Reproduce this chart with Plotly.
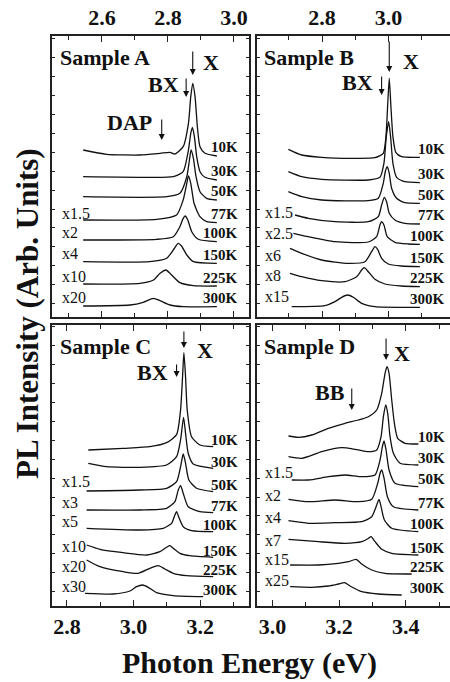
import plotly.graph_objects as go

TEMPS = ["10K", "30K", "50K", "77K", "100K", "150K", "225K", "300K"]

# ---------------- Sample A (upper energy scale, eV) ----------------
A_MULT = ["", "", "", "x1.5", "x2", "x4", "x10", "x20"]
A_E = [
    [2.543, 2.614, 2.715, 2.776, 2.806, 2.821, 2.846, 2.862, 2.869, 2.875, 2.882, 2.889, 2.897, 2.912, 2.948],
    [2.543, 2.715, 2.816, 2.846, 2.862, 2.869, 2.874, 2.880, 2.887, 2.897, 2.912, 2.948],
    [2.543, 2.796, 2.836, 2.857, 2.865, 2.870, 2.877, 2.885, 2.897, 2.917, 2.948],
    [2.543, 2.766, 2.826, 2.846, 2.857, 2.862, 2.869, 2.879, 2.897, 2.917, 2.948],
    [2.543, 2.766, 2.816, 2.836, 2.846, 2.852, 2.860, 2.872, 2.892, 2.948],
    [2.543, 2.745, 2.796, 2.816, 2.831, 2.841, 2.857, 2.877, 2.948],
    [2.543, 2.715, 2.756, 2.776, 2.794, 2.811, 2.836, 2.877, 2.948],
    [2.543, 2.685, 2.725, 2.756, 2.776, 2.806, 2.846, 2.948],
]
A_I = [
    [169, 164.7, 164, 165.7, 166.7, 165, 172.3, 195.7, 222.3, 235.7, 222.3, 192.3, 172.3, 165.7, 163],
    [142.3, 141.7, 142.3, 147.3, 169, 185.7, 191.7, 182.3, 162.3, 147.3, 141.7, 139],
    [122.3, 122.3, 125.7, 142.3, 159, 169, 160.7, 142.3, 127.3, 120.7, 119],
    [99, 99.7, 104, 119, 135.7, 143, 135.7, 115.7, 102.3, 97.3, 96.3],
    [79, 79.7, 82.3, 92.3, 100.7, 103, 99, 87.3, 79.7, 77.3],
    [57.3, 57.3, 60.7, 69, 75.7, 73, 64, 57.3, 55.7],
    [35, 35.7, 39, 45.7, 49, 44, 36.3, 33.3, 33],
    [13, 14, 16.7, 20.7, 18.3, 14, 12.3, 12.3],
]

# ---------------- Sample B (upper energy scale, eV) ----------------
B_MULT = ["", "", "", "x1.5", "x2.5", "x6", "x8", "x15"]
B_E = [
    [2.699, 2.739, 2.799, 2.889, 2.959, 2.984, 2.992, 2.997, 3.002, 3.007, 3.013, 3.022, 3.039, 3.094],
    [2.699, 2.739, 2.799, 2.939, 2.974, 2.986, 2.993, 3.000, 3.006, 3.013, 3.024, 3.049, 3.094],
    [2.699, 2.739, 2.799, 2.939, 2.969, 2.984, 2.990, 2.996, 3.002, 3.009, 3.024, 3.049, 3.094],
    [2.719, 2.759, 2.839, 2.939, 2.969, 2.979, 2.987, 2.994, 3.002, 3.019, 3.049, 3.094],
    [2.714, 2.759, 2.839, 2.939, 2.964, 2.974, 2.979, 2.986, 2.996, 3.019, 3.059, 3.094],
    [2.704, 2.739, 2.799, 2.879, 2.929, 2.949, 2.959, 2.967, 2.979, 2.999, 3.039, 3.094],
    [2.704, 2.739, 2.799, 2.869, 2.904, 2.919, 2.927, 2.939, 2.959, 2.989, 3.039, 3.094],
    [2.709, 2.809, 2.839, 2.859, 2.877, 2.894, 2.919, 2.959, 3.094],
]
B_I = [
    [169.7, 164, 161.7, 160.7, 161.3, 165.7, 182.3, 212.3, 240.7, 212.3, 182.3, 166.3, 162.3, 161.7],
    [147.3, 142.3, 139.7, 139, 141.7, 155.7, 182.3, 197.3, 182.3, 155.7, 141.7, 137.3, 136.3],
    [127.3, 122.3, 119, 118.3, 120.7, 135.7, 147.3, 152.3, 145.7, 130.7, 120.7, 116.3, 115.7],
    [104, 100.7, 97.3, 97.3, 102.3, 114, 121.7, 117.3, 105.7, 99, 95.7, 95],
    [85.7, 82.3, 77.3, 77, 82.3, 94, 97.3, 94, 82.3, 76.7, 75, 74.7],
    [70.7, 65.7, 59, 55.7, 57.3, 67.3, 72.3, 69.7, 60.7, 55, 53, 52.3],
    [45.7, 42.3, 38.3, 37.3, 42.3, 49, 51.3, 47.3, 39.7, 35, 33, 32.3],
    [12.3, 13.3, 17.3, 21.7, 24, 21.7, 15.7, 12.3, 11.7],
]

# ---------------- Sample C (lower energy scale, eV) ----------------
C_MULT = ["", "", "x1.5", "x3", "x5", "x10", "x20", "x30"]
C_E = [
    [2.864, 2.969, 3.049, 3.099, 3.129, 3.141, 3.147, 3.151, 3.156, 3.161, 3.174, 3.199, 3.239],
    [2.864, 2.919, 3.019, 3.099, 3.129, 3.141, 3.150, 3.156, 3.164, 3.179, 3.239],
    [2.859, 3.019, 3.099, 3.129, 3.141, 3.149, 3.156, 3.166, 3.189, 3.239],
    [2.859, 3.019, 3.099, 3.124, 3.134, 3.141, 3.149, 3.164, 3.199, 3.239],
    [2.859, 3.019, 3.089, 3.114, 3.124, 3.129, 3.137, 3.149, 3.174, 3.239],
    [2.859, 2.899, 2.969, 3.039, 3.079, 3.099, 3.109, 3.119, 3.139, 3.169, 3.239],
    [2.859, 2.899, 2.969, 3.014, 3.049, 3.074, 3.094, 3.119, 3.159, 3.239],
    [2.854, 2.939, 2.989, 3.009, 3.027, 3.044, 3.069, 3.119, 3.209],
]
C_I = [
    [157, 158.7, 160.3, 164.3, 172.3, 197, 230.3, 254.3, 230.3, 197, 170.3, 162, 160.3],
    [143.7, 140.3, 139.7, 142, 150.3, 167, 189.7, 173.7, 153.7, 143, 138.7],
    [116, 117, 118.7, 125.3, 140.3, 153, 143.7, 127, 118.7, 115.3],
    [97, 97, 98.7, 105.3, 117, 121.3, 113.7, 100.3, 95.3, 94.3],
    [78.7, 77, 78.7, 83.7, 92, 95.3, 88.7, 80.3, 76.3, 75.3],
    [62, 57.7, 54.3, 52, 55.3, 59.7, 61.3, 58.7, 53.7, 51.3, 49.7],
    [47, 40.3, 35.3, 33.7, 38.7, 41.3, 38, 33.7, 31.3, 30.3],
    [13.7, 13, 16, 20.3, 22, 19.7, 14.3, 11.3, 10.3],
]

# ---------------- Sample D (lower energy scale, eV) ----------------
D_MULT = ["", "", "x1.5", "x2", "x4", "x7", "x15", "x25"]
D_E = [
    [3.048, 3.078, 3.118, 3.168, 3.218, 3.258, 3.288, 3.313, 3.328, 3.338, 3.344, 3.350, 3.358, 3.366, 3.376, 3.398, 3.438],
    [3.048, 3.088, 3.148, 3.208, 3.248, 3.288, 3.313, 3.326, 3.333, 3.340, 3.346, 3.353, 3.363, 3.383, 3.438],
    [3.058, 3.108, 3.168, 3.218, 3.268, 3.308, 3.323, 3.330, 3.335, 3.341, 3.350, 3.368, 3.438],
    [3.048, 3.108, 3.188, 3.258, 3.298, 3.316, 3.323, 3.328, 3.335, 3.345, 3.363, 3.438],
    [3.048, 3.108, 3.188, 3.268, 3.298, 3.313, 3.320, 3.326, 3.336, 3.358, 3.438],
    [3.048, 3.138, 3.218, 3.268, 3.288, 3.296, 3.308, 3.328, 3.358, 3.438],
    [3.053, 3.138, 3.198, 3.228, 3.251, 3.268, 3.298, 3.338, 3.418],
    [3.053, 3.118, 3.168, 3.198, 3.216, 3.233, 3.268, 3.318, 3.388],
]
D_I = [
    [171, 169.7, 172, 178.7, 183.7, 187, 190.3, 197, 213.7, 233.7, 240.3, 233.7, 207, 183.7, 168.7, 163.7, 163],
    [150.3, 148.7, 155.3, 159.3, 157.7, 155.3, 157, 170.3, 190.3, 202, 193.7, 170.3, 153.7, 143.7, 142],
    [127, 127, 130.3, 132, 130.3, 132, 147, 160.3, 166, 157, 137, 123.7, 120.3],
    [107.7, 105.3, 107, 105.3, 107.7, 123.7, 133.7, 137, 128.7, 110.3, 100.3, 97],
    [86.3, 83.7, 84.3, 85.3, 90.3, 102, 107.7, 100.3, 87, 78.7, 75.3],
    [67.7, 65.3, 63.7, 65.3, 68.7, 70.3, 65.3, 57.7, 53.7, 52],
    [42, 42, 43.7, 45.3, 47.7, 43, 37, 33.7, 33],
    [20.3, 19.7, 21, 23, 24.3, 21, 15.3, 13, 12],
]

# Labelled energy ticks of each panel
A_TICKS = [2.6, 2.8, 3.0]
B_TICKS = [2.8, 3.0]
C_TICKS = [2.8, 3.0, 3.2]
D_TICKS = [3.0, 3.2, 3.4]

W, H = 450, 682
FONT = "Liberation Serif"
INK = "#111111"
FRAME = "#222222"

# Panel boxes in page pixels (left, right) / (top, bottom) and energy windows
panels = [
    dict(title="Sample A", E=A_E, I=A_I, mult=A_MULT, ticks=A_TICKS, n="",
         px=(52, 249), py=(36, 317), rng=(2.4485, 3.0455), yr=(2, 283),
         side="top", tx=0.955, mx=0.04, row=8.5, mrow=1),
    dict(title="Sample B", E=B_E, I=B_I, mult=B_MULT, ticks=B_TICKS, n="2",
         px=(256.5, 450), py=(36, 317), rng=(2.6033, 3.1844), yr=(2, 283),
         side="top", tx=0.982, mx=0.035, row=8.5, mrow=2.5),
    dict(title="Sample C", E=C_E, I=C_I, mult=C_MULT, ticks=C_TICKS, n="3",
         px=(52, 249), py=(325, 606), rng=(2.755, 3.3465), yr=(1, 282),
         side="bottom", tx=0.955, mx=0.04, row=6.5, mrow=4),
    dict(title="Sample D", E=D_E, I=D_I, mult=D_MULT, ticks=D_TICKS, n="4",
         px=(256.5, 450), py=(325, 606), rng=(2.952, 3.533), yr=(1, 282),
         side="bottom", tx=0.982, mx=0.035, row=7.5, mrow=7),
]

fig = go.Figure()
annotations = []

for p in panels:
    xa, ya = "x" + p["n"], "y" + p["n"]
    for E, I in zip(p["E"], p["I"]):
        fig.add_trace(go.Scatter(
            x=E, y=I, xaxis=xa, yaxis=ya, mode="lines",
            line=dict(color=INK, width=1.3, shape="spline", smoothing=0.6),
            hoverinfo="skip", showlegend=False))

    x0, x1 = p["px"]
    y0, y1 = p["py"]
    fig.update_layout(**{
        "xaxis" + p["n"]: dict(
            domain=[x0 / W, x1 / W], anchor=ya, range=list(p["rng"]),
            side=p["side"], tickvals=p["ticks"], tickformat=".1f",
            ticks="inside", ticklen=6, tickwidth=1.3, tickcolor=FRAME,
            minor=dict(dtick=0.1, tick0=2.0, ticks="inside", ticklen=4,
                       tickwidth=1.3, tickcolor=FRAME),
            showline=True, linewidth=2, linecolor=FRAME, mirror="allticks",
            showgrid=False, zeroline=False,
            tickfont=dict(family=FONT, size=22, color=INK, weight="bold"),
        ),
        "yaxis" + p["n"]: dict(
            domain=[1 - y1 / H, 1 - y0 / H], anchor=xa, range=list(p["yr"]),
            tick0=15.3, dtick=18.93, ticks="inside", ticklen=3,
            tickwidth=1, tickcolor=FRAME, showticklabels=False,
            showline=True, linewidth=2, linecolor=FRAME,
            mirror="allticks" if x1 < W else False,
            showgrid=False, zeroline=False,
        ),
    })

    dref = xa + " domain"
    for k, temp in enumerate(TEMPS):
        row_y = p["I"][k][-1] + p["row"]
        annotations.append(dict(
            xref=dref, yref=ya, x=p["tx"], y=row_y, text=temp,
            xanchor="right", yanchor="middle", showarrow=False,
            font=dict(family=FONT, size=15, color=INK, weight="bold")))
        if p["mult"][k]:
            annotations.append(dict(
                xref=dref, yref=ya, x=p["mx"], y=row_y + p["mrow"],
                text=p["mult"][k], xanchor="left", yanchor="middle",
                showarrow=False,
                font=dict(family=FONT, size=16, color=INK)))

    annotations.append(dict(
        xref=dref, yref=ya, x=0.03, y=261, text=p["title"],
        xanchor="left", yanchor="middle", showarrow=False,
        font=dict(family=FONT, size=22, color=INK, weight="bold")))


def label(ax_n, x, y, text):
    annotations.append(dict(
        xref="x" + ax_n, yref="y" + ax_n, x=x, y=y, text=text,
        xanchor="center", yanchor="middle", showarrow=False,
        font=dict(family=FONT, size=22, color=INK, weight="bold")))


def arrow(ax_n, x, y_tail, y_tip):
    annotations.append(dict(
        xref="x" + ax_n, yref="y" + ax_n, x=x, y=y_tip,
        axref="x" + ax_n, ayref="y" + ax_n, ax=x, ay=y_tail,
        text="", showarrow=True, arrowhead=2, arrowsize=1.1,
        arrowwidth=1.1, arrowcolor=INK, standoff=0, startstandoff=0))


# Sample A markers
label("", 2.929, 256, "X")
arrow("", 2.875, 269, 244)
label("", 2.785, 234, "BX")
arrow("", 2.855, 242, 222)
label("", 2.682, 196, "DAP")
arrow("", 2.781, 201, 179)
# Sample B markers
label("2", 3.066, 257, "X")
arrow("2", 3.002, 279, 247)
label("2", 2.908, 236, "BX")
arrow("2", 2.979, 244, 224)
# Sample C markers
label("3", 3.214, 257, "X")
arrow("3", 3.151, 277, 259)
label("3", 3.057, 235, "BX")
arrow("3", 3.129, 244, 230)
# Sample D markers
label("4", 3.390, 254, "X")
arrow("4", 3.341, 270, 247)
label("4", 3.173, 215, "BB")
arrow("4", 3.238, 220, 197)

# Shared axis titles
annotations.append(dict(
    xref="paper", yref="paper", x=249 / W, y=1 - 663 / H,
    text="Photon Energy (eV)", showarrow=False,
    xanchor="center", yanchor="middle",
    font=dict(family=FONT, size=30, color=INK, weight="bold")))
annotations.append(dict(
    xref="paper", yref="paper", x=27 / W, y=1 - 314 / H,
    text="PL Intensity (Arb. Units)", showarrow=False, textangle=-90,
    xanchor="center", yanchor="middle",
    font=dict(family=FONT, size=31, color=INK, weight="bold")))

fig.update_layout(
    width=W, height=H, margin=dict(l=0, r=0, t=0, b=0),
    paper_bgcolor="white", plot_bgcolor="white",
    annotations=annotations, showlegend=False,
)

fig.write_html("out.html", config={"displayModeBar": False})
